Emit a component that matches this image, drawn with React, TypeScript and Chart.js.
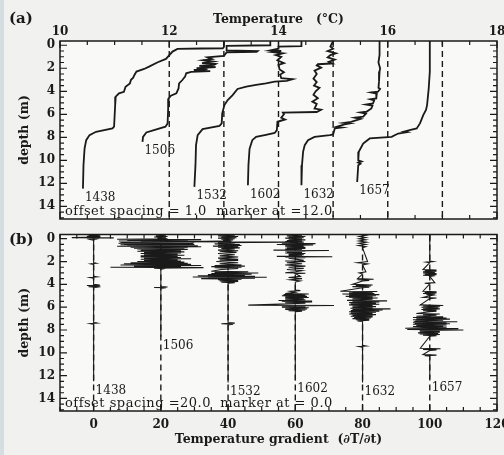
import React, { useEffect, useRef } from 'react';
import { Chart, registerables } from 'chart.js';

Chart.register(...registerables);

// ---------------- data ----------------
const profileTimes = ['1438', '1506', '1532', '1602', '1632', '1657'];
const depthMin = -0.37;
const depthMax = 15.1;
const depthTicks = [0, 2, 4, 6, 8, 10, 12, 14];

// Panel (a): temperature profiles, each shifted by the offset spacing
const tempOffsetSpacing = 1.0;
const tempMarkerAt = 12.0;
const tempAxisTicks = [10, 12, 14, 16, 18];

// [temperature as plotted on the offset axis (°C), depth (m)]
const temp1438 = [[13.0, -0.37], [13.0, 0.15], [12.98, 0.26], [12.6, 0.28], [12.15, 0.32], [12.06, 0.55], [11.94, 1.19], [11.79, 1.48], [11.63, 1.86], [11.54, 2.06], [11.4, 2.29], [11.36, 2.6], [11.34, 2.82], [11.3, 3.0], [11.28, 3.31], [11.2, 3.6], [11.17, 4.04], [11.08, 4.18], [11.02, 4.47], [11.01, 5.2], [10.99, 7.08], [10.96, 7.23], [10.66, 7.52], [10.54, 7.81], [10.48, 8.25], [10.45, 8.97], [10.43, 10.43], [10.42, 12.46]];
const temp1506 = [[13.85, -0.37], [13.85, 0.0], [13.05, 0.05], [13.05, 0.45], [13.62, 0.5], [13.6, 0.58], [13.05, 0.62], [13.0, 0.92], [12.7, 1.05], [12.78, 1.2], [12.62, 1.3], [12.8, 1.42], [12.6, 1.55], [12.85, 1.62], [12.82, 1.7], [12.55, 1.8], [12.85, 1.9], [12.5, 2.0], [12.7, 2.08], [12.45, 2.15], [12.75, 2.25], [12.4, 2.32], [12.31, 2.44], [12.29, 2.73], [12.24, 3.02], [12.18, 3.31], [12.17, 3.75], [12.13, 4.18], [12.03, 4.38], [11.99, 4.62], [11.98, 5.49], [11.97, 6.79], [11.93, 7.08], [11.72, 7.38], [11.58, 7.58], [11.52, 7.96], [11.51, 8.39]];
const temp1532 = [[14.42, -0.37], [14.42, 0.08], [14.0, 0.12], [14.0, 0.3], [13.85, 0.45], [14.05, 0.5], [13.9, 0.6], [14.08, 0.7], [13.95, 0.85], [14.05, 1.0], [13.98, 1.3], [14.1, 1.55], [14.0, 1.7], [14.02, 2.1], [14.1, 2.35], [14.03, 2.55], [14.05, 2.85], [14.26, 2.95], [14.15, 3.1], [13.93, 3.16], [13.77, 3.31], [13.59, 3.45], [13.41, 3.6], [13.25, 3.8], [13.16, 4.33], [13.07, 4.76], [13.01, 5.2], [12.97, 5.92], [12.96, 6.79], [12.92, 7.0], [12.61, 7.29], [12.52, 7.81], [12.49, 8.68], [12.48, 10.42], [12.46, 12.31]];
const temp1602 = [[15.0, -0.37], [14.95, 0.1], [15.0, 0.3], [14.9, 0.5], [15.05, 0.7], [14.95, 0.85], [14.9, 1.05], [15.03, 1.25], [14.92, 1.45], [14.98, 1.58], [14.72, 1.65], [14.7, 1.75], [14.78, 1.95], [14.66, 2.2], [14.7, 2.5], [14.64, 2.9], [14.7, 3.2], [14.65, 3.5], [14.75, 3.7], [14.68, 4.0], [14.64, 4.3], [14.72, 4.6], [14.62, 4.9], [14.7, 5.1], [14.66, 5.5], [14.78, 5.6], [14.7, 5.8], [14.08, 5.85], [14.1, 6.0], [14.05, 6.3], [14.12, 6.45], [13.98, 6.65], [13.97, 7.38], [13.93, 7.62], [13.77, 7.78], [13.59, 7.96], [13.52, 8.25], [13.47, 9.0], [13.45, 10.4], [13.44, 12.17]];
const temp1632 = [[15.85, -0.37], [15.85, 0.84], [15.83, 1.5], [15.86, 2.0], [15.85, 2.29], [15.84, 3.16], [15.83, 3.7], [15.86, 3.8], [15.82, 4.04], [15.7, 4.1], [15.8, 4.2], [15.79, 4.62], [15.68, 4.7], [15.75, 4.8], [15.73, 5.05], [15.6, 5.15], [15.72, 5.25], [15.7, 5.49], [15.61, 5.78], [15.5, 5.85], [15.6, 5.95], [15.55, 6.21], [15.4, 6.3], [15.5, 6.4], [15.43, 6.5], [15.33, 6.65], [15.2, 6.75], [15.3, 6.8], [15.21, 6.88], [15.12, 7.0], [15.05, 7.1], [15.15, 7.15], [15.03, 7.23], [15.0, 7.75], [14.94, 7.81], [14.66, 7.96], [14.54, 8.25], [14.48, 8.68], [14.45, 9.26], [14.43, 10.43], [14.42, 12.17]];
const temp1657 = [[16.77, -0.37], [16.77, 2.29], [16.75, 3.75], [16.72, 5.2], [16.7, 5.63], [16.65, 6.07], [16.59, 6.79], [16.53, 7.23], [16.4, 7.38], [16.3, 7.5], [16.35, 7.55], [16.19, 7.67], [16.07, 7.96], [15.67, 8.1], [15.55, 8.54], [15.47, 9.26], [15.46, 10.0], [15.52, 10.1], [15.46, 10.2], [15.5, 10.3], [15.46, 10.43], [15.44, 11.88]];

// Panel (b): temperature gradient, each shifted by the offset spacing
const gradOffsetSpacing = 20.0;
const gradMarkerAt = 0.0;
const gradAxisTicks = [0, 20, 40, 60, 80, 100, 120];

// [depth (m), gradient]
const grad1438 = [[-0.35, 0], [-0.3, 1.5], [-0.28, -1.5], [-0.25, 2], [-0.22, -2], [-0.2, 1.5], [-0.17, -1], [-0.14, 2], [-0.1, -6.5], [-0.07, 6], [-0.04, -2], [-0.01, 1.5], [0.02, -1.5], [0.05, 1], [0.08, -0.8], [0.12, 0], [2.1, 0], [2.15, 0.8], [2.2, -0.8], [2.25, 0], [3.3, 0], [3.35, 1], [3.4, -1], [3.45, 0], [4.0, 0], [4.05, 1.8], [4.1, -2], [4.15, 2], [4.2, -1.5], [4.25, 1], [4.3, 0], [7.35, 0], [7.4, 1], [7.45, -1], [7.5, 0], [12.5, 0]];
const grad1506 = [[-0.35, 0], [-0.3, 1.5], [-0.25, -1.5], [-0.2, 2], [-0.15, -2], [-0.1, 1.5], [-0.05, -1], [0.0, 2], [0.05, -13], [0.08, 12], [0.12, -10], [0.15, 8], [0.2, -12.5], [0.23, 20.5], [0.27, -6], [0.3, 10], [0.33, -12], [0.36, 9], [0.4, -12.6], [0.43, 9.7], [0.46, -11], [0.5, 10], [0.53, -12], [0.56, 9], [0.6, -10], [0.63, 11], [0.66, -13], [0.7, 12], [0.74, -9], [0.78, 8], [0.82, -8], [0.86, 7], [0.9, -7], [0.95, 8], [1.0, -6], [1.05, 6], [1.1, -7], [1.15, 7], [1.2, -5], [1.25, 6], [1.3, -6], [1.35, 5], [1.4, -5], [1.45, 7], [1.5, -6], [1.55, 5], [1.6, -6], [1.65, 6], [1.7, -5], [1.75, 9], [1.8, -6], [1.85, 5], [1.9, -5], [1.95, 6], [2.0, -7], [2.05, 7], [2.1, -9], [2.15, 8], [2.2, -11], [2.25, 9], [2.3, -12], [2.35, 12], [2.4, -8], [2.45, 6], [2.5, -15], [2.53, 12.7], [2.58, -2], [2.62, 1], [2.7, 0], [4.2, 0], [4.23, 2], [4.27, -2], [4.3, 1.5], [4.35, 0], [8.6, 0]];
const grad1532 = [[-0.35, 0], [-0.3, 2], [-0.25, -3], [-0.2, 3], [-0.15, -2], [-0.1, 2.5], [-0.05, -3], [0.0, 2], [0.05, -2], [0.1, 1.5], [0.15, -1.5], [0.2, 1], [0.27, -11], [0.3, 17.6], [0.34, -3], [0.38, 2], [0.45, -4], [0.5, 3.5], [0.55, -3], [0.6, 4], [0.65, -4.5], [0.7, 3], [0.75, -3], [0.8, 3.5], [0.85, -2], [0.9, 2], [1.0, -3], [1.05, 3], [1.1, -2.5], [1.2, 2.5], [1.3, -3], [1.4, 2], [1.5, -2.5], [1.6, 3], [1.7, -3], [1.8, 3], [1.85, -2.5], [1.9, 3], [2.0, -3.5], [2.1, 3], [2.2, -2.5], [2.3, 4], [2.35, -4], [2.4, 5], [2.45, -5], [2.5, 4], [2.55, -4], [2.6, 3], [2.7, -2], [2.85, -5], [2.9, 6], [2.95, -4], [3.0, 9], [3.05, -5], [3.1, 7], [3.15, -6], [3.2, 5], [3.25, -9], [3.3, 8], [3.35, -10.5], [3.38, 11.5], [3.42, -6], [3.47, 8], [3.5, -8], [3.55, 4], [3.6, -3], [3.65, 3], [3.7, -2.5], [3.75, 3], [3.8, -2], [3.85, 2], [3.9, 0], [7.35, 0], [7.4, 2], [7.45, -2], [7.5, 1.5], [7.55, 0], [12.6, 0]];
const grad1602 = [[-0.35, 0], [-0.3, 2], [-0.25, -2.5], [-0.2, 3], [-0.15, -2], [-0.1, 2.5], [-0.05, -3], [0.0, 2], [0.05, -2], [0.1, 3], [0.15, -2.5], [0.2, 2], [0.25, -3], [0.3, 2.5], [0.35, -2], [0.4, -4], [0.43, 6], [0.47, -2], [0.5, -5.5], [0.55, 5.3], [0.6, -3], [0.65, 2.5], [0.7, -3], [0.75, 3], [0.8, -2.5], [0.85, 3], [0.9, -3], [0.95, 2], [1.0, -6.5], [1.03, 10], [1.07, -3], [1.1, 3], [1.15, -2.5], [1.2, 2], [1.25, -3], [1.3, 3], [1.35, -2], [1.4, 2.5], [1.45, -2], [1.5, 2], [1.55, -5.5], [1.58, 11], [1.62, -3], [1.66, 3], [1.7, -2], [1.9, 2.5], [1.95, -3], [2.0, 3], [2.1, -2.5], [2.2, 2], [2.3, -3], [2.4, 3], [2.5, -2], [2.6, 2.5], [2.7, -2.5], [2.8, 2], [2.9, 0], [2.98, -3], [3.02, 3], [3.06, 0], [3.3, 1.5], [3.4, -2], [3.5, 2], [3.6, -1.5], [3.7, 1.5], [3.8, 0], [4.5, 0], [4.55, 1.5], [4.6, -1.5], [4.7, 0], [4.8, -3], [4.85, 4], [4.9, -3.5], [4.95, 3], [5.0, -4], [5.05, 3.5], [5.1, -3], [5.15, 4], [5.2, -3], [5.25, 2.5], [5.3, -3], [5.35, 3], [5.42, -5], [5.46, 5], [5.5, -4], [5.55, 5], [5.6, -3], [5.65, 3], [5.7, -2], [5.82, -14], [5.85, 11.5], [5.9, -4], [5.95, 3], [6.0, -4], [6.05, 4], [6.1, -3], [6.15, 3.5], [6.2, -3], [6.25, 3], [6.3, -2], [6.35, 2], [6.4, 0], [12.4, 0]];
const grad1632 = [[-0.35, 0], [-0.3, 1], [-0.2, -1], [-0.1, 1], [0.0, -1], [0.1, 1], [0.2, -1], [0.3, 1.2], [0.4, -1], [0.5, 1], [0.6, -1.2], [0.7, 1], [0.8, 0], [2.0, 1.5], [2.1, -1.5], [2.2, 1.5], [2.3, 0], [2.9, 1], [3.0, -1], [3.1, 0], [3.5, -1.5], [3.55, 3.3], [3.6, -1.5], [3.65, 2], [3.7, 0], [4.0, -3], [4.05, 3], [4.1, -2], [4.15, 2.5], [4.2, -3], [4.25, 2], [4.3, 0], [4.6, -6.6], [4.63, 4.4], [4.67, -3], [4.7, 3], [4.75, -4], [4.8, 3.5], [4.85, -6], [4.9, 5], [4.95, -4], [5.0, 4], [5.05, -5], [5.1, 3], [5.15, -4], [5.2, 4.5], [5.25, -3], [5.3, 3], [5.4, -4.6], [5.45, 7.3], [5.5, -3], [5.55, 5], [5.6, -4], [5.65, 4], [5.7, -3.5], [5.75, 5], [5.8, -4], [5.85, 3], [5.9, -3], [5.95, 4], [6.0, -3], [6.05, 3], [6.1, -3.6], [6.15, 8.3], [6.2, -3], [6.25, 6], [6.3, -3.5], [6.35, 5], [6.4, -4], [6.45, 4], [6.5, -3.5], [6.55, 3], [6.6, -4], [6.65, 4], [6.7, -3], [6.75, 3], [6.8, -3.5], [6.85, 3], [6.9, -2.5], [6.95, 2.5], [7.0, -3], [7.05, 2], [7.1, -2], [7.15, 2], [7.2, -1.5], [7.25, 0], [9.35, 0], [9.4, 1], [9.45, -1], [9.5, 0], [12.6, 0]];
const grad1657 = [[-0.35, 0], [1.95, 0], [2.0, 1], [2.05, -1], [2.1, 0], [2.7, -2], [2.75, 2], [2.8, -1.5], [2.85, 2], [2.9, -2], [2.95, 1.5], [3.0, -2], [3.05, 2], [3.1, -1.5], [3.15, 2], [3.2, -2], [3.25, 1.5], [3.3, 0], [3.85, 1.5], [3.9, -1.5], [3.95, 0], [4.6, -2], [4.65, 2], [4.7, -1.5], [4.75, 2], [4.8, -2], [4.85, 1.5], [4.9, -1], [4.95, 1], [5.0, 0], [5.15, -2], [5.2, 2], [5.25, 0], [5.8, -2.8], [5.85, 4], [5.9, -2], [5.95, 3], [6.0, -2.5], [6.05, 2.5], [6.1, -2], [6.15, 3], [6.2, -2.5], [6.25, 2], [6.3, -2], [6.35, 2], [6.4, 0], [6.55, -4], [6.6, 3], [6.65, -2], [6.7, 2], [6.8, -4], [6.85, 4], [6.9, -5], [6.95, 5], [7.0, -4], [7.05, 6], [7.1, -5], [7.15, 4], [7.2, -4], [7.25, -4.3], [7.28, 8.2], [7.32, -5], [7.36, 5], [7.4, -4.5], [7.45, 6], [7.5, -5], [7.55, 5], [7.6, -4], [7.65, 4], [7.7, -5], [7.75, 5], [7.85, -7.3], [7.88, 8.5], [7.92, -4], [7.96, -6.7], [8.0, 10], [8.04, -3], [8.1, 3], [8.15, -3], [8.2, 3], [8.25, -3.5], [8.3, 2.5], [8.35, -3], [8.4, 3], [8.45, -2], [8.5, 2], [8.55, 0], [9.6, -2.8], [9.65, 3.2], [9.7, -2], [9.75, 2], [9.8, 0], [10.15, -2], [10.2, 2], [10.25, -1.5], [10.3, 0], [12.3, 0]];

const tempProfiles = [temp1438, temp1506, temp1532, temp1602, temp1632, temp1657];
const gradProfiles = [grad1438, grad1506, grad1532, grad1602, grad1632, grad1657];

// ---------------- styling ----------------
const FONT = '"DejaVu Serif", serif';
const INK = '#1a1a1a';
const tickFont = { family: FONT, size: 12, weight: 'bold' as const };
const titleFont = { family: FONT, size: 12.5, weight: 'bold' as const };

function tickList(min: number, max: number, step: number, majorStep: number) {
  const out: { v: number; major: boolean }[] = [];
  const n = Math.round((max - min) / step);
  for (let k = 0; k <= n; k++) {
    const v = min + k * step;
    const r = v / majorStep;
    out.push({ v, major: Math.abs(r - Math.round(r)) < 1e-6 });
  }
  return out;
}

const fmtNum = (v: number) => v.toFixed(1).padStart(4, ' ');

function panelPlugin(o: any) {
  return {
    id: 'panel' + o.key,
    beforeDraw(chart: any) {
      const { ctx, chartArea: a } = chart;
      ctx.save();
      ctx.fillStyle = '#f9f9f8';
      ctx.fillRect(a.left, a.top, a.right - a.left, a.bottom - a.top);
      ctx.restore();
    },
    afterDraw(chart: any) {
      const { ctx, chartArea: a, scales } = chart;
      const xs = scales.x;
      const ys = scales.y;
      ctx.save();
      ctx.strokeStyle = INK;
      ctx.lineWidth = 1.2;
      ctx.beginPath();
      for (const t of o.yTicks) {
        const p = ys.getPixelForValue(t.v);
        const L = t.major ? 7 : 4;
        ctx.moveTo(a.left, p); ctx.lineTo(a.left + L, p);
        ctx.moveTo(a.right, p); ctx.lineTo(a.right - L, p);
      }
      for (const t of o.xTicks) {
        const p = xs.getPixelForValue(t.v);
        const L = t.major ? 7 : 4;
        ctx.moveTo(p, a.top); ctx.lineTo(p, a.top + L);
        ctx.moveTo(p, a.bottom); ctx.lineTo(p, a.bottom - L);
      }
      ctx.stroke();
      ctx.lineWidth = 1.5;
      ctx.strokeRect(a.left, a.top, a.right - a.left, a.bottom - a.top);

      ctx.fillStyle = INK;
      ctx.textAlign = 'left';
      ctx.textBaseline = 'middle';
      ctx.font = '12px ' + FONT;
      for (const l of o.labels) {
        ctx.fillText(l.text, xs.getPixelForValue(l.x) + 2, ys.getPixelForValue(l.y));
      }
      ctx.font = '13px ' + FONT;
      (ctx as any).letterSpacing = '0.5px';
      ctx.fillText(o.note, a.left + 5, a.bottom - 7);
      (ctx as any).letterSpacing = '0px';
      ctx.font = 'bold 15px ' + FONT;
      ctx.fillText(o.letter, 9, o.letterY);
      ctx.restore();
    },
  };
}

function yScaleConfig() {
  return {
    type: 'linear',
    reverse: true,
    min: depthMin,
    max: depthMax,
    afterBuildTicks: (s: any) => { s.ticks = depthTicks.map((v) => ({ value: v })); },
    afterFit: (s: any) => { s.width = 60; s.paddingTop = 0; s.paddingBottom = 0; },
    ticks: { font: tickFont, color: INK, padding: 5 },
    grid: { display: false, drawTicks: false },
    border: { display: false },
    title: { display: true, text: 'depth (m)', font: titleFont, color: INK, padding: { top: 17, bottom: 0 } },
  };
}

function lineDs(points: { x: number; y: number }[], width: number, dash?: number[]) {
  return {
    data: points,
    showLine: true,
    borderColor: INK,
    backgroundColor: INK,
    borderWidth: width,
    borderDash: dash || [],
    pointRadius: 0,
    pointHoverRadius: 0,
    fill: false,
    tension: 0,
  };
}

function topConfig(): any {
  const profiles = tempProfiles.map((p) => lineDs(p.map(([t, d]) => ({ x: t, y: d })), 1.8));
  const markers = tempProfiles.map((_, i) => {
    const m = tempMarkerAt + i * tempOffsetSpacing;
    return lineDs([{ x: m, y: depthMin }, { x: m, y: depthMax }], 1.4, [6, 4]);
  });
  const labels = tempProfiles.map((p, i) => {
    const last = p[p.length - 1];
    return { x: last[0], y: last[1] + 0.8, text: profileTimes[i] };
  });
  return {
    type: 'scatter',
    data: { datasets: [...profiles, ...markers] },
    options: {
      animation: false,
      responsive: false,
      devicePixelRatio: 1,
      events: [],
      layout: { padding: { left: 0, right: 7, top: 0, bottom: 9 } },
      plugins: { legend: { display: false }, tooltip: { enabled: false } },
      scales: {
        x: {
          type: 'linear',
          position: 'top',
          min: 10,
          max: 18,
          afterBuildTicks: (s: any) => { s.ticks = tempAxisTicks.map((v) => ({ value: v })); },
          afterFit: (s: any) => { s.height = 41; s.paddingLeft = 0; s.paddingRight = 0; },
          ticks: { font: tickFont, color: INK, padding: 2, maxRotation: 0, autoSkip: false },
          grid: { display: false, drawTicks: false },
          border: { display: false },
          title: { display: true, text: 'Temperature   (°C)', font: titleFont, color: INK, padding: { top: 12.5, bottom: 0 } },
        },
        y: yScaleConfig(),
      },
    },
    plugins: [panelPlugin({
      key: 'a',
      letter: '(a)',
      letterY: 19,
      note: `offset spacing =${fmtNum(tempOffsetSpacing)}  marker at =${fmtNum(tempMarkerAt)}`,
      xTicks: tickList(10, 18, 0.5, 2),
      yTicks: tickList(0, 15, 0.5, 2),
      labels,
    })],
  };
}

function bottomConfig(): any {
  const profiles = gradProfiles.map((g, i) =>
    lineDs(g.map(([d, v]) => ({ x: i * gradOffsetSpacing + v, y: d })), 1.1));
  const markers = gradProfiles.map((_, i) => {
    const m = gradMarkerAt + i * gradOffsetSpacing;
    return lineDs([{ x: m, y: depthMin }, { x: m, y: depthMax }], 1.4, [6, 4]);
  });
  const labels = gradProfiles.map((g, i) => ({
    x: gradMarkerAt + i * gradOffsetSpacing,
    y: g[g.length - 1][0] + 0.8,
    text: profileTimes[i],
  }));
  return {
    type: 'scatter',
    data: { datasets: [...profiles, ...markers] },
    options: {
      animation: false,
      responsive: false,
      devicePixelRatio: 1,
      events: [],
      layout: { padding: { left: 0, right: 7, top: 6.5, bottom: 0 } },
      plugins: { legend: { display: false }, tooltip: { enabled: false } },
      scales: {
        x: {
          type: 'linear',
          position: 'bottom',
          min: -10,
          max: 120,
          afterBuildTicks: (s: any) => { s.ticks = gradAxisTicks.map((v) => ({ value: v })); },
          afterFit: (s: any) => { s.height = 44; s.paddingLeft = 0; s.paddingRight = 0; },
          ticks: { font: tickFont, color: INK, padding: 7, maxRotation: 0, autoSkip: false },
          grid: { display: false, drawTicks: false },
          border: { display: false },
          title: { display: true, text: 'Temperature gradient  (∂T/∂t)', font: titleFont, color: INK, padding: { top: 0, bottom: 7.5 } },
        },
        y: yScaleConfig(),
      },
    },
    plugins: [panelPlugin({
      key: 'b',
      letter: '(b)',
      letterY: 12,
      note: `offset spacing =${fmtNum(gradOffsetSpacing)}  marker at =${fmtNum(gradMarkerAt)}`,
      xTicks: tickList(-10, 120, 5, 20),
      yTicks: tickList(0, 15, 0.5, 2),
      labels,
    })],
  };
}

export default function App() {
  const topRef = useRef<HTMLCanvasElement | null>(null);
  const botRef = useRef<HTMLCanvasElement | null>(null);

  useEffect(() => {
    const charts: Chart[] = [];
    if (topRef.current) charts.push(new Chart(topRef.current, topConfig()));
    if (botRef.current) charts.push(new Chart(botRef.current, bottomConfig()));
    return () => { charts.forEach((c) => c.destroy()); };
  }, []);

  return (
    <div style={{ position: 'absolute', left: 0, top: 0, width: 504, height: 455, background: '#f1f1ef', overflow: 'hidden' }}>
      <div style={{ position: 'absolute', left: 0, top: 0, width: 4, height: 455, background: '#d6dde2' }} />
      <canvas ref={topRef} width={504} height={228} style={{ position: 'absolute', left: 0, top: 0 }} />
      <canvas ref={botRef} width={504} height={227} style={{ position: 'absolute', left: 0, top: 228 }} />
    </div>
  );
}
